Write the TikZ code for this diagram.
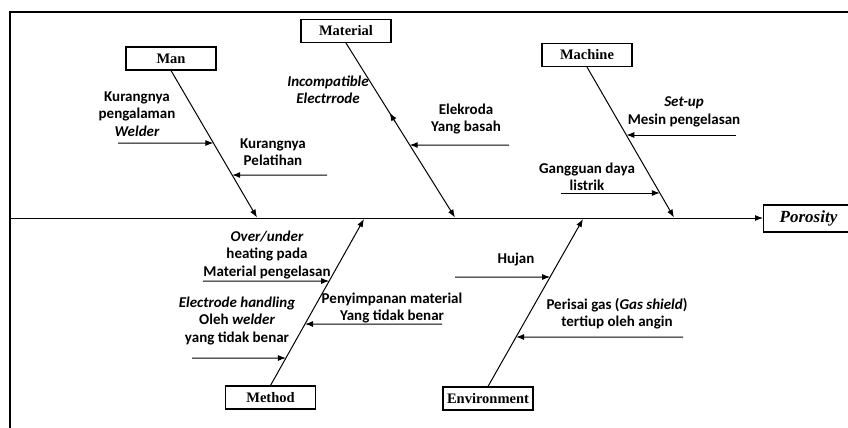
\documentclass[tikz,border=0pt]{standalone}
\usepackage{fontspec}
\setmainfont{Liberation Serif}
\newfontfamily\calib{Carlito}
\usetikzlibrary{arrows.meta,calc}
\tikzset{
  catbox/.style={draw,line width=1.1pt,minimum width=90pt,minimum height=23pt,inner sep=0pt,font=\fontsize{14.5}{16}\selectfont\bfseries},
  cause/.style={align=center,inner sep=0pt,font=\calib\bfseries\fontsize{15}{17.5}\selectfont},
  bone/.style={line width=1pt,-{Latex[length=8pt,width=6pt]}},
  sub/.style={line width=1pt,-{Latex[length=8pt,width=6pt]}},
}
\begin{document}
\begin{tikzpicture}[x=1pt,y=-1pt]
\useasboundingbox (0,0) rectangle (848,428);
% frame
\draw[line width=1.3pt] (10,460) -- (10,12) -- (870,12);
% effect
\node[draw,line width=1.1pt,anchor=west,minimum width=110pt,minimum height=27pt,inner sep=0pt] (por) at (763,218.5) {};
\node[font=\fontsize{17}{19}\selectfont\bfseries\itshape] (portxt) at (808.5,218.5) {Porosity};
\coordinate (spS) at (10,218);
\draw[bone] (spS) -- (por.west |- spS);
% category boxes
\node[catbox] (man) at (171,58.5) {Man};
\node[catbox] (mat) at (346,31) {Material};
\node[catbox] (mac) at (587,55) {Machine};
\node[catbox] (met) at (270.5,397.5) {Method};
\node[catbox] (env) at (488,398.5) {Environment};
% bone ends on spine
\coordinate (manE) at (257,217.5);
\coordinate (matE) at (455,217.5);
\coordinate (macE) at (674,217.5);
\coordinate (metE) at (364,219);
\coordinate (envE) at (583,219);
\draw[bone] (man.south) -- (manE);
\draw[bone] (mat.south) -- (matE);
\draw[bone] (mac.south) -- (macE);
\draw[bone] (met.north) -- (metE);
\draw[bone] (env.north) -- (envE);
% Man causes
\node[cause] (m1) at (137,114) {Kurangnya\\pengalaman\\\itshape Welder};
\coordinate (m1s) at (118,143);
\draw[sub] (m1s) -- (intersection of m1s--{(300,143)} and man.south--manE);
\node[cause] (m2) at (273,152) {Kurangnya\\Pelatihan};
\coordinate (m2s) at (327,175);
\draw[sub] (m2s) -- (intersection of m2s--{(100,175)} and man.south--manE);
% Material causes
\node[cause] (t1) at (328,90) {\itshape Incompatible\\\itshape Electrrode};
\draw[sub] ($(mat.south)!0.45!(matE)$) -- ($(mat.south)!0.40!(matE)$);
\node[cause] (t2) at (466,119) {Elekroda\\Yang basah};
\coordinate (t2s) at (509,145);
\draw[sub] (t2s) -- (intersection of t2s--{(300,145)} and mat.south--matE);
% Machine causes
\node[cause] (c1) at (684,112) {\itshape Set-up\\Mesin pengelasan};
\coordinate (c1s) at (736,135);
\draw[sub] (c1s) -- (intersection of c1s--{(500,135)} and mac.south--macE);
\node[cause] (c2) at (587,177) {Gangguan daya\\listrik};
\coordinate (c2s) at (561,193);
\draw[sub] (c2s) -- (intersection of c2s--{(750,193)} and mac.south--macE);
% Method causes
\node[cause] (h1) at (267,255) {\itshape Over/under\\heating pada\\Material pengelasan};
\coordinate (h1s) at (203,281);
\draw[sub] (h1s) -- (intersection of h1s--{(450,281)} and met.north--metE);
\node[cause] (h2) at (237,321) {\itshape Electrode handling\\Oleh \itshape welder\\yang tidak benar};
\coordinate (h2s) at (192,358);
\draw[sub] (h2s) -- (intersection of h2s--{(450,358)} and met.north--metE);
\node[cause] (h3) at (392,308) {Penyimpanan material\\Yang tidak benar};
\coordinate (h3s) at (442,324);
\draw[sub] (h3s) -- (intersection of h3s--{(150,324)} and met.north--metE);
% Environment causes
\node[cause] (e1) at (516,260) {Hujan};
\coordinate (e1s) at (455,277);
\draw[sub] (e1s) -- (intersection of e1s--{(700,277)} and env.north--envE);
\node[cause] (e2) at (617,313.5) {Perisai gas (\itshape Gas shield\upshape)\\tertiup oleh angin};
\coordinate (e2s) at (683,337);
\draw[sub] (e2s) -- (intersection of e2s--{(400,337)} and env.north--envE);
\end{tikzpicture}
\end{document}
